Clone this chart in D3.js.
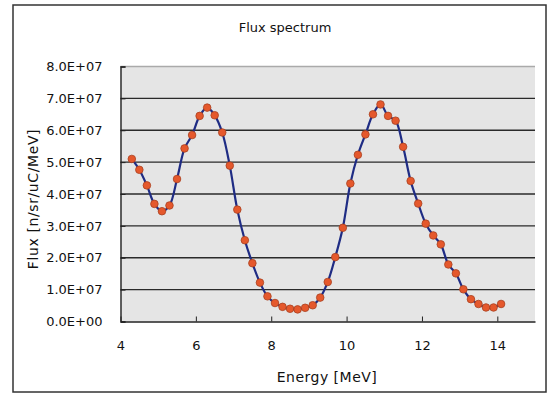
<!DOCTYPE html>
<html><head><meta charset="utf-8">
<script src="https://cdn.jsdelivr.net/npm/d3@7"></script>
<style>body{margin:0;background:#fff}svg{display:block}text{font-family:"DejaVu Sans",sans-serif;fill:#111}</style>
</head><body>
<script>
const title = "Flux spectrum";
const xTitle = "Energy [MeV]";
const yTitle = "Flux [n/sr/uC/MeV]";
const energy = [4.3,4.5,4.7,4.9,5.1,5.3,5.5,5.7,5.9,6.1,6.3,6.5,6.7,6.9,7.1,7.3,7.5,7.7,7.9,8.1,8.3,8.5,8.7,8.9,9.1,9.3,9.5,9.7,9.9,10.1,10.3,10.5,10.7,10.9,11.1,11.3,11.5,11.7,11.9,12.1,12.3,12.5,12.7,12.9,13.1,13.3,13.5,13.7,13.9,14.1];
const flux = [5.10e7,4.76e7,4.27e7,3.69e7,3.46e7,3.64e7,4.47e7,5.43e7,5.85e7,6.45e7,6.71e7,6.47e7,5.93e7,4.89e7,3.51e7,2.55e7,1.83e7,1.22e7,0.79e7,0.58e7,0.46e7,0.40e7,0.38e7,0.43e7,0.51e7,0.75e7,1.24e7,2.02e7,2.94e7,4.33e7,5.23e7,5.87e7,6.50e7,6.81e7,6.45e7,6.30e7,5.48e7,4.41e7,3.70e7,3.07e7,2.70e7,2.42e7,1.79e7,1.51e7,1.01e7,0.70e7,0.55e7,0.44e7,0.44e7,0.55e7];
const xTicks = [4,6,8,10,12,14];
const yTicks = [0,1e7,2e7,3e7,4e7,5e7,6e7,7e7,8e7];

const W = 555, H = 395;
const svg = d3.select("body").append("svg").attr("width", W).attr("height", H);
const L = 120.5, R = 535, T = 66.5, B = 321.5;
const x = d3.scaleLinear().domain([4, 15]).range([L, R]);
const y = d3.scaleLinear().domain([0, 8e7]).range([B, T]);

// outer frame
svg.append("rect").attr("x", 13).attr("y", 5).attr("width", 533).attr("height", 387)
  .attr("fill", "#fff").attr("stroke", "#333").attr("stroke-width", 1.5);

// plot background
svg.append("rect").attr("x", L).attr("y", T).attr("width", R - L).attr("height", B - T).attr("fill", "#e5e5e5");

// gridlines
svg.append("g").selectAll("line").data(yTicks.slice(1)).join("line")
  .attr("x1", L).attr("x2", R).attr("y1", d => y(d)).attr("y2", d => y(d))
  .attr("stroke", d => d === 8e7 ? "#aaa" : "#2a2a2a").attr("stroke-width", 1.4);

const fmt = v => {
  if (v === 0) return "0.0E+00";
  const e = Math.floor(Math.log10(v));
  const m = v / Math.pow(10, e);
  return m.toFixed(1) + "E+" + String(e).padStart(2, "0");
};

// y axis
const ya = svg.append("g").attr("transform", `translate(${L},0)`)
  .call(d3.axisLeft(y).tickValues(yTicks).tickFormat(fmt).tickSize(-5).tickPadding(18));
ya.select(".domain").attr("stroke", "#222").attr("stroke-width", 1.4);
ya.selectAll(".tick line").attr("stroke", "#222");
ya.selectAll("text").attr("font-size", 13).attr("fill", "#111").attr("font-family", "DejaVu Sans");

// x axis
const xa = svg.append("g").attr("transform", `translate(0,${B})`)
  .call(d3.axisBottom(x).tickValues(xTicks).tickFormat(d3.format("d")).tickSizeInner(-5).tickSizeOuter(0).tickPadding(19));
xa.select(".domain").attr("stroke", "#222").attr("stroke-width", 1.4);
xa.selectAll(".tick line").attr("stroke", "#222");
xa.selectAll("text").attr("font-size", 13).attr("fill", "#111").attr("font-family", "DejaVu Sans");

// data
const data = energy.map((e, i) => ({e, v: flux[i]}));
const line = d3.line().x(d => x(d.e)).y(d => y(d.v)).curve(d3.curveCatmullRom.alpha(0.5));
svg.append("path").datum(data).attr("d", line).attr("fill", "none")
  .attr("stroke", "#1f2c84").attr("stroke-width", 2.2);
svg.append("g").selectAll("circle").data(data).join("circle")
  .attr("cx", d => x(d.e)).attr("cy", d => y(d.v)).attr("r", 3.8)
  .attr("fill", "#e5582c").attr("stroke", "#a8401f").attr("stroke-width", 0.8);

// titles
svg.append("text").attr("x", 285).attr("y", 32).attr("text-anchor", "middle")
  .attr("font-size", 13).text(title);
svg.append("text").attr("x", 327).attr("y", 382).attr("text-anchor", "middle")
  .attr("font-size", 14).attr("letter-spacing", 0.5).text(xTitle);
svg.append("text").attr("transform", "translate(38,199) rotate(-90)").attr("text-anchor", "middle")
  .attr("font-size", 14).attr("letter-spacing", 0.6).text(yTitle);
</script>
</body></html>
